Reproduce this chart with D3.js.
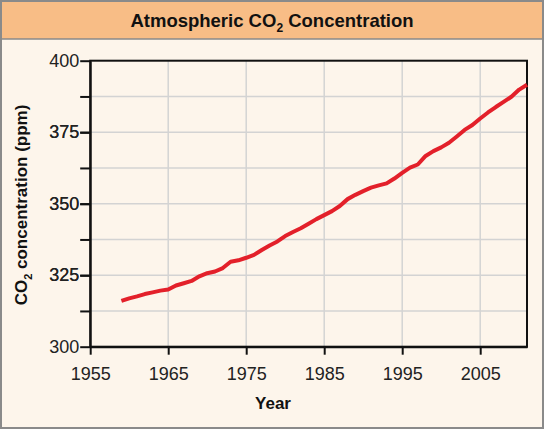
<!DOCTYPE html>
<html>
<head>
<meta charset="utf-8">
<script src="https://cdn.jsdelivr.net/npm/d3@7"></script>
<style>
  body { margin: 0; background: #fff; }
  text { font-family: "Liberation Sans", Arial, sans-serif; }
</style>
</head>
<body>
<div id="chart"></div>
<script>
const svgWidth = 544;
const svgHeight = 429;

// annual mean CO2 (ppm)
const years = [1959,1960,1961,1962,1963,1964,1965,1966,1967,1968,1969,1970,1971,1972,1973,1974,1975,1976,1977,1978,1979,1980,1981,1982,1983,1984,1985,1986,1987,1988,1989,1990,1991,1992,1993,1994,1995,1996,1997,1998,1999,2000,2001,2002,2003,2004,2005,2006,2007,2008,2009,2010,2011];
const co2 = [316.0,316.9,317.6,318.4,319.0,319.6,320.0,321.4,322.2,323.0,324.6,325.7,326.3,327.5,329.7,330.2,331.1,332.1,333.8,335.4,336.8,338.7,340.1,341.4,343.0,344.6,346.0,347.4,349.2,351.6,353.1,354.4,355.6,356.4,357.1,358.8,360.8,362.6,363.7,366.7,368.4,369.7,371.3,373.5,375.8,377.5,379.8,381.9,383.8,385.6,387.4,389.9,391.6];
const xTicks = [1955,1965,1975,1985,1995,2005];
const yTicks = [300,325,350,375,400];
const yGrid = [312.5,325,337.5,350,362.5,375,387.5];

const chartMargin = { top: 60.7, right: 17, bottom: 82.3, left: 90.2 };
const width = svgWidth - chartMargin.left - chartMargin.right;
const height = svgHeight - chartMargin.top - chartMargin.bottom;

const svg = d3.select("#chart").append("svg")
  .attr("width", svgWidth)
  .attr("height", svgHeight);

// frame + header
svg.append("rect").attr("x", 1).attr("y", 1).attr("width", svgWidth - 2).attr("height", svgHeight - 2)
  .attr("fill", "#fdf5eb").attr("stroke", "#8a8a8a").attr("stroke-width", 2);
svg.append("rect").attr("x", 2).attr("y", 2).attr("width", svgWidth - 4).attr("height", 37)
  .attr("fill", "#f8bd86");
svg.append("line").attr("x1", 2).attr("x2", svgWidth - 2).attr("y1", 39).attr("y2", 39)
  .attr("stroke", "#8a8a8a").attr("stroke-width", 1.5);

const title = svg.append("text")
  .attr("x", svgWidth / 2).attr("y", 27)
  .attr("text-anchor", "middle")
  .attr("font-size", 18.5).attr("font-weight", "bold").attr("fill", "#111");
title.append("tspan").text("Atmospheric CO");
title.append("tspan").attr("font-size", 12).attr("dy", 5).text("2");
title.append("tspan").attr("dy", -5).text(" Concentration");

const chartGroup = svg.append("g")
  .attr("transform", `translate(${chartMargin.left}, ${chartMargin.top})`);

const x = d3.scaleLinear().domain([1955, 2011]).range([0, width]);
const y = d3.scaleLinear().domain([300, 400]).range([height, 0]);

// grid
chartGroup.selectAll(".vgrid").data(xTicks.slice(1)).enter().append("line")
  .attr("x1", d => x(d)).attr("x2", d => x(d)).attr("y1", 0).attr("y2", height)
  .attr("stroke", "#d3d3d3").attr("stroke-width", 1.5);
chartGroup.selectAll(".hgrid").data(yGrid).enter().append("line")
  .attr("x1", 0).attr("x2", width).attr("y1", d => y(d)).attr("y2", d => y(d))
  .attr("stroke", "#d3d3d3").attr("stroke-width", 1.5);

// plot frame
chartGroup.append("rect").attr("width", width).attr("height", height)
  .attr("fill", "none").attr("stroke", "#111").attr("stroke-width", 2);

// axes
const bottomAxis = d3.axisBottom(x).tickValues(xTicks).tickFormat(d3.format("d")).tickSize(8).tickSizeOuter(0);
const leftAxis = d3.axisLeft(y).tickValues(yTicks.concat(yGrid)).tickFormat(d => yTicks.includes(d) ? d : "").tickSize(10).tickSizeOuter(0);

const xAxis = chartGroup.append("g").attr("transform", `translate(0, ${height})`).call(bottomAxis);
const yAxis = chartGroup.append("g").call(leftAxis);
[xAxis, yAxis].forEach(a => {
  a.attr("font-family", null);
  a.select(".domain").attr("stroke", "#111").attr("stroke-width", 2);
  a.selectAll(".tick line").attr("stroke", "#111").attr("stroke-width", 2);
  a.selectAll(".tick text").attr("font-size", 18).attr("fill", "#222");
});
xAxis.selectAll(".tick text").attr("dy", "1.25em");
yAxis.selectAll(".tick text").attr("dx", "2px");

// line
const line = d3.line().x((d, i) => x(years[i])).y(d => y(d));
chartGroup.append("path").datum(co2)
  .attr("d", line).attr("fill", "none")
  .attr("stroke", "#e3202a").attr("stroke-width", 4).attr("stroke-linejoin", "round");

// axis titles
svg.append("text").attr("x", 273).attr("y", 409)
  .attr("text-anchor", "middle").attr("font-size", 17).attr("font-weight", "bold").attr("fill", "#111")
  .text("Year");

const ylab = svg.append("text")
  .attr("transform", "translate(27, 205) rotate(-90)")
  .attr("text-anchor", "middle").attr("font-size", 17).attr("font-weight", "bold").attr("fill", "#111");
ylab.append("tspan").text("CO");
ylab.append("tspan").attr("font-size", 11).attr("dy", 5).text("2");
ylab.append("tspan").attr("dy", -5).text(" concentration (ppm)");
</script>
</body>
</html>
